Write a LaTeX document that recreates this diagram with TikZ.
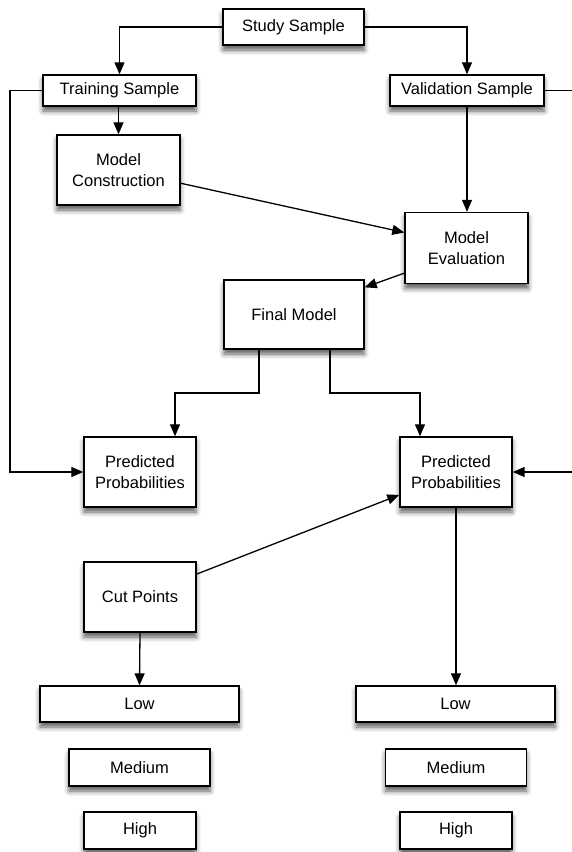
\documentclass[tikz,border=0pt]{standalone}
\usepackage{fontspec}
\setmainfont{Liberation Sans}
\usetikzlibrary{arrows.meta,shadows.blur}
\begin{document}
\begin{tikzpicture}[x=1pt,y=-1pt,
  box/.style={draw=black,line width=1.4pt,fill=white,inner sep=0pt,align=center,
    font=\fontsize{16.5}{20.5}\selectfont,
    blur shadow={shadow xshift=0pt,shadow yshift=-5pt,shadow blur radius=5pt,shadow opacity=65}},
  arr/.style={line width=1.3pt,-{Triangle[length=12pt,width=10pt]}}]
\useasboundingbox (0,0) rectangle (572,852);
\clip (0,0) rectangle (572,852);
\node[box,minimum width=141pt,minimum height=36pt] (study) at (293.5,27) {Study Sample};
\node[box,minimum width=153pt,minimum height=31pt] (train) at (119.5,90.5) {Training Sample};
\node[box,minimum width=154pt,minimum height=31pt] (valid) at (467,90.5) {Validation Sample};
\node[box,minimum width=123pt,minimum height=70pt] (mcon) at (118.5,170) {Model\\Construction};
\node[box,minimum width=123pt,minimum height=71pt] (meval) at (466.5,248) {Model\\Evaluation};
\node[box,minimum width=140pt,minimum height=69pt] (final) at (294,314.5) {Final Model};
\node[box,minimum width=112pt,minimum height=70pt] (pp1) at (140,472) {Predicted\\Probabilities};
\node[box,minimum width=112pt,minimum height=70pt] (pp2) at (456,472) {Predicted\\Probabilities};
\node[box,minimum width=112pt,minimum height=70pt] (cut) at (140,597) {Cut Points};
\node[box,minimum width=199pt,minimum height=36pt] (low1) at (139.5,704) {Low};
\node[box,minimum width=199pt,minimum height=36pt] (low2) at (455.5,704) {Low};
\node[box,minimum width=141pt,minimum height=37pt] (med1) at (139.5,767.5) {Medium};
\node[box,minimum width=141pt,minimum height=37pt] (med2) at (456,767.5) {Medium};
\node[box,minimum width=112pt,minimum height=37pt] (high1) at (140,830.5) {High};
\node[box,minimum width=112pt,minimum height=37pt] (high2) at (456,830.5) {High};
\coordinate (L) at (10,472);
\coordinate (R) at (590,472);
\coordinate (f1) at (259,393);
\coordinate (f2) at (330,393);
\draw[arr] (study.west) -| (train.north);
\draw[arr] (study.east) -| (valid.north);
\draw[arr] (train.south -| mcon.north) -- (mcon.north);
\draw[arr] (valid.south) -- (valid.south |- meval.north);
\draw[arr] (train.west) -| (L) -- (pp1.west);
\draw[arr] (valid.east) -| (R) -- (pp2.east);
\draw[arr] (mcon.-12.8) -- (meval.166);
\draw[arr] (meval.202) -- (final.21);
\draw[arr] (final.south -| f1) -- (f1) -| ([xshift=35pt]pp1.north);
\draw[arr] (final.south -| f2) -- (f2) -| ([xshift=-36pt]pp2.north);
\draw[arr] (cut.22.3) -- (pp2.202.3);
\draw[arr] (cut.south) -- (low1.north);
\draw[arr] (pp2.south) -- (pp2.south |- low2.north);
\end{tikzpicture}
\end{document}
